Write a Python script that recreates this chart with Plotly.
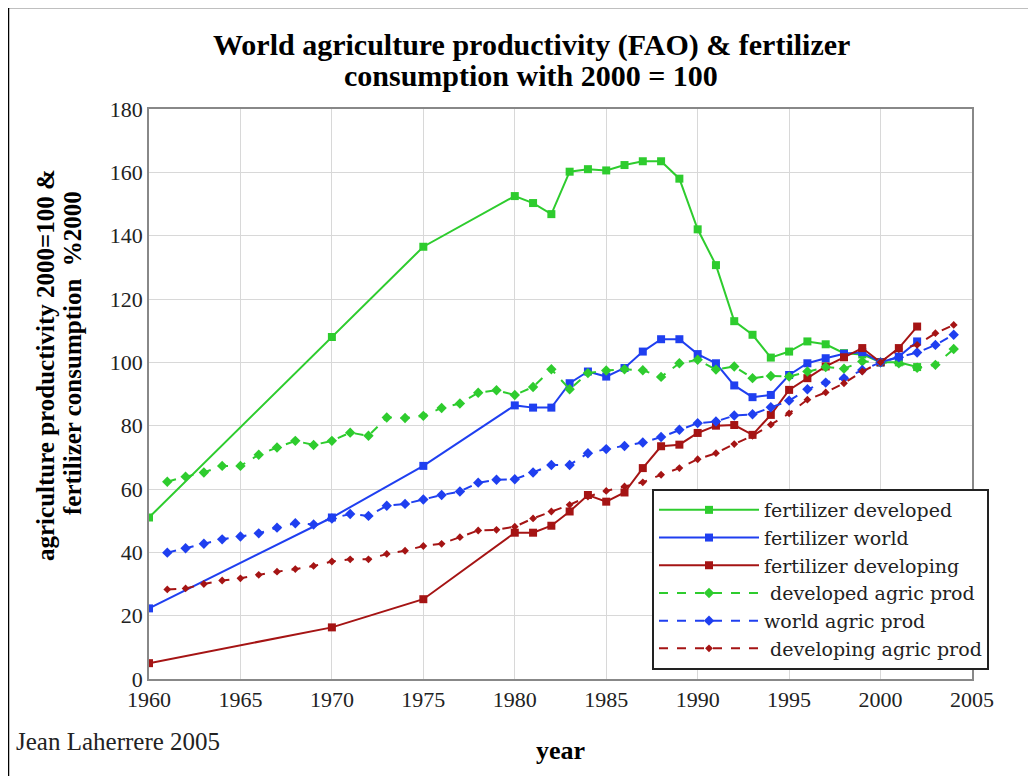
import plotly.graph_objects as go

# fertilizer consumption, 2000 = 100
fert_years = [1960, 1970, 1975, 1980, 1981, 1982, 1983, 1984, 1985, 1986, 1987, 1988, 1989,
              1990, 1991, 1992, 1993, 1994, 1995, 1996, 1997, 1998, 1999, 2000, 2001, 2002]
fert_developed = [51, 108, 136.5, 152.5, 150.3, 146.8, 160.2, 161, 160.6, 162.3, 163.5, 163.5, 158,
                  142, 130.7, 113, 108.7, 101.5, 103.4, 106.6, 105.7, 102.9, 102.5, 100, 100, 98.5]
fert_world = [22.3, 51, 67.3, 86.4, 85.7, 85.7, 93.4, 97.1, 95.5, 98.2, 103.4, 107.3, 107.3,
              102.6, 99.7, 92.7, 89, 89.7, 96, 99.7, 101.3, 102.7, 103.2, 100, 101.8, 106.6]
fert_developing = [5, 16.3, 25.2, 46.2, 46.2, 48.4, 52.9, 58.1, 56, 58.9, 66.6, 73.5, 74,
                   77.7, 80, 80.2, 77.1, 83.4, 91.3, 95, 98.7, 101.6, 104.5, 100, 104.5, 111.3]

# agricultural productivity, 2000 = 100
agric_years = list(range(1961, 2005))
agric_developed = [62.3, 63.9, 65.2, 67.3, 67.3, 70.8, 73.1, 75.2, 73.9, 75.2, 77.8, 76.8, 82.6, 82.4,
                   83.1, 85.6, 87, 90.4, 91.2, 89.7, 92.2, 97.8, 91.5, 96.6, 97.4, 97.8, 97.5, 95.4,
                   99.7, 100.8, 97.7, 98.7, 95, 95.7, 95.5, 97.1, 98.5, 98, 100.3, 100, 99.7, 98.3,
                   99.2, 104.2]
agric_world = [39.9, 41.3, 42.7, 44.1, 45, 46, 47.8, 49.2, 48.8, 50.7, 52.1, 51.5, 54.7, 55.3,
               56.7, 58.1, 59.2, 62, 62.9, 63.1, 65.2, 67.6, 67.6, 71.3, 72.6, 73.6, 74.7, 76.4,
               78.7, 80.8, 81.3, 83.2, 83.6, 85.8, 87.9, 91.5, 93.6, 95, 97.6, 100, 101.6, 103.1,
               105.5, 108.7]
agric_developing = [28.3, 28.6, 30, 31.1, 31.8, 32.9, 33.9, 34.7, 35.7, 37.1, 37.8, 37.8, 39.5, 40.5,
                    42, 42.7, 44.8, 46.9, 47.1, 48.1, 50.7, 52.9, 55, 57.6, 59.4, 60.8, 62.1, 64.5,
                    66.6, 69.4, 71.3, 74.2, 76.8, 80.3, 83.9, 88.2, 90.5, 93.4, 97.1, 100, 104.2, 105.5,
                    109.2, 111.8]

green = '#2ecc2e'
blue = '#1f3ff0'
red = '#a51414'
serif = 'Liberation Serif, Times New Roman, serif'


# screen pixel -> paper coords (page has an 8px body margin)
def px(x):
    return (x - 149) / 823


def py(y):
    return (679 - y) / 570


fig = go.Figure()
fig.add_trace(go.Scatter(x=fert_years, y=fert_developed, mode='lines+markers', name='fertilizer developed',
                         line=dict(color=green, width=2), marker=dict(symbol='square', size=8, color=green)))
fig.add_trace(go.Scatter(x=fert_years, y=fert_world, mode='lines+markers', name='fertilizer world',
                         line=dict(color=blue, width=2), marker=dict(symbol='square', size=8, color=blue)))
fig.add_trace(go.Scatter(x=fert_years, y=fert_developing, mode='lines+markers', name='fertilizer developing',
                         line=dict(color=red, width=2), marker=dict(symbol='square', size=8, color=red)))
fig.add_trace(go.Scatter(x=agric_years, y=agric_developed, mode='lines+markers', name=' developed agric prod',
                         line=dict(color=green, width=2, dash='dash'),
                         marker=dict(symbol='diamond', size=8, color=green)))
fig.add_trace(go.Scatter(x=agric_years, y=agric_world, mode='lines+markers', name='world agric prod',
                         line=dict(color=blue, width=2, dash='dash'),
                         marker=dict(symbol='diamond', size=8, color=blue)))
fig.add_trace(go.Scatter(x=agric_years, y=agric_developing, mode='lines+markers', name=' developing agric prod',
                         line=dict(color=red, width=2, dash='dash'),
                         marker=dict(symbol='diamond', size=6, color=red)))

fig.update_layout(
    width=1036, height=776,
    margin=dict(l=141, r=72, t=101, b=105),
    paper_bgcolor='white', plot_bgcolor='white',
    font=dict(family=serif, size=22, color='#222'),
    showlegend=True,
    legend=dict(x=px(652), y=py(489), xanchor='left', yanchor='top',
                bgcolor='white', bordercolor='#222', borderwidth=2,
                font=dict(family='DejaVu Serif, serif', size=19, color='#222'),
                tracegroupgap=0, itemwidth=100),
)
fig.update_xaxes(range=[1960, 2005], tickvals=list(range(1960, 2006, 5)), showgrid=True,
                 gridcolor='#d8d8d8', gridwidth=1, showline=True, linecolor='#888', linewidth=1.5,
                 mirror=True, ticks='', zeroline=False)
fig.update_yaxes(range=[0, 180], tickvals=list(range(0, 181, 20)), showgrid=True,
                 gridcolor='#d8d8d8', gridwidth=1, showline=True, linecolor='#888', linewidth=1.5,
                 mirror=True, ticks='', zeroline=False)

title_font = dict(family=serif, size=30, color='black')
fig.add_annotation(text='<b>World agriculture productivity (FAO) & fertilizer</b>', xref='paper', yref='paper',
                   x=px(531), y=py(45), xanchor='center', yanchor='middle', showarrow=False, font=title_font)
fig.add_annotation(text='<b>consumption with 2000 = 100</b>', xref='paper', yref='paper',
                   x=px(531), y=py(75), xanchor='center', yanchor='middle', showarrow=False, font=title_font)

ytitle_font = dict(family=serif, size=25, color='black')
fig.add_annotation(text='<b>agriculture productivity 2000=100 &</b>', xref='paper', yref='paper',
                   x=px(45), y=py(365), xanchor='center', yanchor='middle', textangle=-90,
                   showarrow=False, font=ytitle_font)
fig.add_annotation(text='<b>fertilizer consumption  %2000</b>', xref='paper', yref='paper',
                   x=px(72), y=py(353), xanchor='center', yanchor='middle', textangle=-90,
                   showarrow=False, font=ytitle_font)

fig.add_annotation(text='<b>year</b>', xref='paper', yref='paper', x=px(560), y=py(750),
                   xanchor='center', yanchor='middle', showarrow=False,
                   font=dict(family=serif, size=26, color='black'))
fig.add_annotation(text='Jean Laherrere 2005', xref='paper', yref='paper',
                   x=px(14), y=py(742), xanchor='left', yanchor='middle',
                   showarrow=False, font=dict(family=serif, size=25, color='#222'))

# outer frame of the picture
fig.add_shape(type='rect', xref='paper', yref='paper',
              x0=px(8), x1=px(1060), y0=py(800), y1=py(7),
              line=dict(color='black', width=2.5))

fig.write_html('out.html')
